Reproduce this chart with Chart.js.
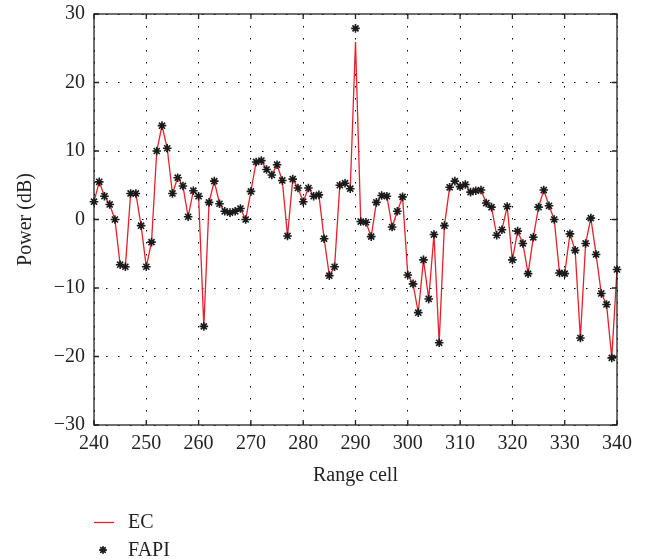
<!DOCTYPE html>
<html>
<head>
<meta charset="utf-8">
<script src="https://cdn.jsdelivr.net/npm/chart.js@4/dist/chart.umd.min.js"></script>
<style>
html,body{margin:0;padding:0;background:#fff;}
#wrap{width:645px;height:559px;position:relative;}
</style>
</head>
<body>
<div id="wrap"><canvas id="c" width="645" height="559"></canvas></div>
<script>
const cellStart = 240;
const cellEnd = 340;
const xTicks = [240,250,260,270,280,290,300,310,320,330,340];
const yTicks = [-30,-20,-10,0,10,20,30];

const fapiValues = [
  2.6, 5.5, 3.4, 2.2, 0, -6.6, -6.9, 3.8, 3.8, -0.9,
  -6.9, -3.3, 10, 13.7, 10.4, 3.8, 6.1, 4.9, 0.4, 4.2,
  3.4, -15.6, 2.5, 5.6, 2.3, 1.2, 1.0, 1.2, 1.6, 0,
  4.1, 8.4, 8.6, 7.3, 6.5, 8.0, 5.7, -2.4, 5.9, 4.6,
  2.6, 4.6, 3.4, 3.6, -2.8, -8.2, -6.9, 5.0, 5.3, 4.5,
  27.9, -0.3, -0.4, -2.5, 2.5, 3.5, 3.4, -1.1, 1.2, 3.3,
  -8.1, -9.4, -13.6, -5.9, -11.6, -2.2, -18, -0.9, 4.7, 5.6,
  4.8, 5.1, 4.0, 4.2, 4.3, 2.4, 1.8, -2.3, -1.5, 1.9,
  -5.9, -1.7, -3.5, -7.9, -2.6, 1.8, 4.3, 2.0, 0, -7.8,
  -7.9, -2.1, -4.5, -17.3, -3.5, 0.2, -5.1, -10.8, -12.4, -20.2,
  -7.3
];
const ecValues = [
  2.6, 5.5, 3.4, 2.2, 0, -6.6, -6.9, 3.8, 3.8, -0.9,
  -6.9, -3.3, 10, 13.7, 10.4, 3.8, 6.1, 4.9, 0.4, 4.2,
  3.4, -15.6, 2.5, 5.6, 2.3, 1.2, 1.0, 1.2, 1.6, 0,
  4.1, 8.4, 8.6, 7.3, 6.5, 8.0, 5.7, -2.4, 5.9, 4.6,
  2.6, 4.6, 3.4, 3.6, -2.8, -8.2, -6.9, 5.0, 5.3, 4.5,
  25.9, -0.3, -0.4, -2.5, 2.5, 3.5, 3.4, -1.1, 1.2, 3.3,
  -8.1, -9.4, -13.6, -5.9, -11.6, -2.2, -18, -0.9, 4.7, 5.6,
  4.8, 5.1, 4.0, 4.2, 4.3, 2.4, 1.8, -2.3, -1.5, 1.9,
  -5.9, -1.7, -3.5, -7.9, -2.6, 1.8, 4.3, 2.0, 0, -7.8,
  -7.9, -2.1, -4.5, -17.3, -3.5, 0.2, -5.1, -10.8, -12.4, -20.2,
  -7.3
];
const seriesNames = ['EC', 'FAPI'];

const cells = ecValues.map((_, i) => cellStart + i);
const ecData = cells.map((c, i) => ({x: c, y: ecValues[i]}));
const fapiData = cells.map((c, i) => ({x: c, y: fapiValues[i]}));

const TEXT = '#231f20';
const RED = '#e8202a';
const FONT = "'Liberation Serif', 'DejaVu Serif', serif";
const FS = 20;

const framePlugin = {
  id: 'frame',
  afterDatasetsDraw(chart) {
    const {ctx, chartArea: a, scales} = chart;
    ctx.save();
    ctx.strokeStyle = TEXT;
    ctx.lineWidth = 1.3;
    ctx.strokeRect(a.left, a.top, a.right - a.left, a.bottom - a.top);
    const tl = 5;
    ctx.beginPath();
    xTicks.forEach(v => {
      const px = scales.x.getPixelForValue(v);
      ctx.moveTo(px, a.bottom); ctx.lineTo(px, a.bottom - tl);
      ctx.moveTo(px, a.top); ctx.lineTo(px, a.top + tl);
    });
    yTicks.forEach(v => {
      const py = scales.y.getPixelForValue(v);
      ctx.moveTo(a.left, py); ctx.lineTo(a.left + tl, py);
      ctx.moveTo(a.right, py); ctx.lineTo(a.right - tl, py);
    });
    ctx.stroke();
    ctx.restore();
  },
  afterDraw(chart) {
    const {ctx} = chart;
    ctx.save();
    ctx.font = FS + 'px ' + FONT;
    ctx.fillStyle = TEXT;
    ctx.textBaseline = 'middle';
    ctx.textAlign = 'left';
    // EC entry
    ctx.strokeStyle = RED;
    ctx.lineWidth = 1.3;
    ctx.beginPath();
    ctx.moveTo(94, 522.5); ctx.lineTo(114, 522.5);
    ctx.stroke();
    ctx.fillText(seriesNames[0], 128, 523);
    // FAPI entry
    ctx.strokeStyle = TEXT;
    ctx.lineWidth = 1.4;
    Chart.helpers.drawPoint(ctx, {pointStyle: 'star', radius: 3.8, borderWidth: 1.4}, 103, 550);
    ctx.stroke();
    ctx.fillText(seriesNames[1], 128, 551);
    ctx.restore();
  }
};

new Chart(document.getElementById('c'), {
  type: 'scatter',
  data: {
    datasets: [
      {
        label: seriesNames[0],
        data: ecData,
        showLine: true,
        borderColor: RED,
        borderWidth: 1.3,
        pointRadius: 0,
        pointHoverRadius: 0,
        tension: 0,
        order: 2
      },
      {
        label: seriesNames[1],
        data: fapiData,
        showLine: false,
        pointStyle: 'star',
        pointRadius: 4.3,
        pointBorderColor: '#1a1a1a',
        pointBorderWidth: 1.6,
        pointBackgroundColor: '#1a1a1a',
        clip: false,
        order: 1
      }
    ]
  },
  options: {
    responsive: false,
    animation: false,
    devicePixelRatio: 1,
    layout: {padding: {left: 0, right: 28, top: 14, bottom: 0}},
    plugins: {legend: {display: false}, tooltip: {enabled: false}},
    scales: {
      x: {
        type: 'linear',
        min: cellStart,
        max: cellEnd,
        afterBuildTicks: s => { s.ticks = xTicks.map(v => ({value: v})); },
        afterFit: s => { s.height = 134; s.paddingLeft = 0; s.paddingRight = 0; },
        grid: {color: '#000', lineWidth: 1, drawTicks: false},
        border: {display: false, dash: [1.5, 10.5]},
        ticks: {color: TEXT, font: {family: FONT, size: FS}, padding: 7, maxRotation: 0,
                callback: v => String(v)},
        title: {display: true, text: 'Range cell', color: TEXT, font: {family: FONT, size: FS},
                padding: {top: 0, bottom: 71}}
      },
      y: {
        type: 'linear',
        min: -30,
        max: 30,
        afterBuildTicks: s => { s.ticks = yTicks.map(v => ({value: v})); },
        afterFit: s => { s.width = 94; s.paddingTop = 0; s.paddingBottom = 0; },
        grid: {color: '#000', lineWidth: 1, drawTicks: false},
        border: {display: false, dash: [1.5, 10.5]},
        ticks: {color: TEXT, font: {family: FONT, size: FS}, padding: 9,
                callback: v => String(v).replace('-', '\u2212')},
        title: {display: true, text: 'Power (dB)', color: TEXT, font: {family: FONT, size: FS},
                padding: {top: 14, bottom: 0}}
      }
    }
  },
  plugins: [framePlugin]
});
</script>
</body>
</html>
